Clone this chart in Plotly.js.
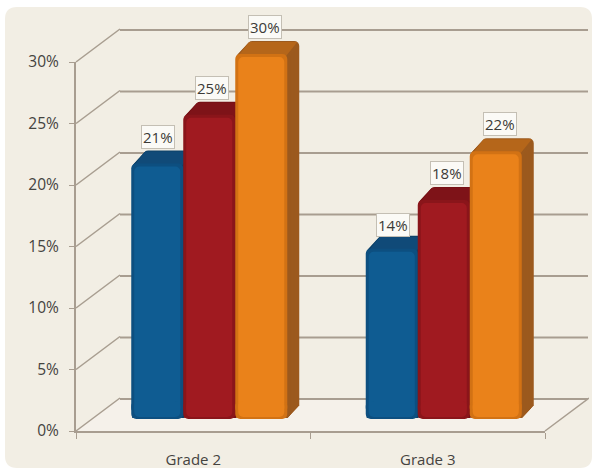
<!DOCTYPE html>
<html>
<head>
<meta charset="utf-8">
<script src="https://cdn.plot.ly/plotly-3.0.1.min.js"></script>
<style>html,body{margin:0;padding:0;background:#fff}</style>
</head>
<body>
<div id="chart" style="width:592px;height:469px"></div>
<script>
const categories = ['Grade 2', 'Grade 3'];
const seriesA = [21, 14];
const seriesB = [25, 18];
const seriesC = [30, 22];
const percentTicks = [0, 5, 10, 15, 20, 25, 30];

const W = 592, H = 469;
const font = '"Open Sans", "Noto Sans", sans-serif';
const textColor = '#45433f';
const gridColor = '#a89d90';
const series = [
  {v: seriesA, front: '#0f5c92', edge: '#0d4f80', side: '#0d4066', top: '#104a78'},
  {v: seriesB, front: '#a01a20', edge: '#8a151a', side: '#761015', top: '#7e1318'},
  {v: seriesC, front: '#ea821a', edge: '#d27214', side: '#9c5a1e', top: '#b5661a'}
];

const layout = {
  width: W, height: H,
  margin: {l: 0, r: 0, t: 0, b: 0},
  paper_bgcolor: '#ffffff',
  plot_bgcolor: 'rgba(0,0,0,0)',
  showlegend: false,
  barmode: 'overlay',
  barcornerradius: 5,
  font: {family: font, color: textColor, size: 14},
  shapes: [{
    type: 'path', xref: 'paper', yref: 'paper', layer: 'below',
    path: (() => {
      const X = p => p / W, Y = p => 1 - p / H, r = 12;
      const L = 5, R = 592, T = 7, B = 468;
      return `M${X(L + r)},${Y(T)} L${X(R - r)},${Y(T)} Q${X(R)},${Y(T)} ${X(R)},${Y(T + r)} ` +
             `L${X(R)},${Y(B - r)} Q${X(R)},${Y(B)} ${X(R - r)},${Y(B)} ` +
             `L${X(L + r)},${Y(B)} Q${X(L)},${Y(B)} ${X(L)},${Y(B - r)} ` +
             `L${X(L)},${Y(T + r)} Q${X(L)},${Y(T)} ${X(L + r)},${Y(T)} Z`;
    })(),
    fillcolor: '#f2eee4', line: {width: 0}
  }],
  annotations: []
};

let axisCount = 0;
// x0,x1,yBottom,yTop fix the scale; pad extends the drawable area beyond it without changing the scale
function addAxes(x0, x1, yBottom, yTop, xExtra, yExtra, pad) {
  axisCount++;
  const n = axisCount === 1 ? '' : String(axisCount);
  const p = Object.assign({l: 0, r: 0, t: 0, b: 0}, pad || {});
  const ux = 2 / (x1 - x0), uy = 30 / (yBottom - yTop);
  const hidden = {showgrid: false, zeroline: false, showline: false, showticklabels: false, ticks: ''};
  layout['xaxis' + n] = Object.assign({}, hidden, {
    domain: [(x0 - p.l) / W, (x1 + p.r) / W],
    range: [-0.5 - p.l * ux, 1.5 + p.r * ux], type: 'linear', fixedrange: true,
    anchor: 'y' + n
  }, xExtra || {});
  layout['yaxis' + n] = Object.assign({}, hidden, {
    domain: [1 - (yBottom + p.b) / H, 1 - (yTop - p.t) / H],
    range: [-p.b * uy, 30 + p.t * uy], type: 'linear', fixedrange: true,
    anchor: 'x' + n
  }, yExtra || {});
  return {x: 'x' + n, y: 'y' + n};
}

const traces = [];
const off = {hoverinfo: 'skip', showlegend: false};
const pxX = 2 / 469, pxY = 30 / 369;
const depthX = 44 * pxX, depthY = 33 * pxY;

// Floor and depth rules, on the scale of the front axes
const guides = addAxes(76, 545, 431, 62, {}, {}, {l: 2, r: 44, t: 36, b: 3});
traces.push(Object.assign({
  type: 'scatter', mode: 'lines', fill: 'toself', fillcolor: 'rgba(255,255,255,0.22)',
  x: [-0.5, 1.5, 1.5 + depthX, -0.5 + depthX, -0.5], y: [0, 0, depthY, depthY, 0],
  line: {width: 0, color: 'rgba(0,0,0,0)'}, xaxis: guides.x, yaxis: guides.y
}, off));
percentTicks.forEach(t => traces.push(Object.assign({
  type: 'scatter', mode: 'lines',
  x: [-0.5, -0.5 + depthX], y: [t, t + depthY],
  line: {color: gridColor, width: 1.5}, xaxis: guides.x, yaxis: guides.y
}, off)));
traces.push(Object.assign({
  type: 'scatter', mode: 'lines',
  x: [1.5, 1.5 + depthX], y: [0, depthY],
  line: {color: gridColor, width: 1.5}, xaxis: guides.x, yaxis: guides.y
}, off));

// Back wall rules
const wall = addAxes(120, 588, 399, 30, {}, {}, {t: 4, b: 4});
percentTicks.forEach(t => traces.push(Object.assign({
  type: 'scatter', mode: 'lines',
  x: [-0.5, 1.5], y: [t, t],
  line: {color: gridColor, width: 2}, xaxis: wall.x, yaxis: wall.y
}, off)));

// Front axes, labelled
const front = addAxes(76, 545, 431, 62, {
  showline: true, linecolor: gridColor, linewidth: 2,
  showticklabels: true, tickmode: 'array', tickvals: [0, 1], ticktext: categories,
  tickfont: {size: 15, color: textColor}, ticklabelstandoff: 14,
  minor: {tickmode: 'array', tickvals: [-0.5, 0.5, 1.5], ticks: 'outside', ticklen: 6, tickcolor: gridColor, tickwidth: 1}
}, {
  showline: true, linecolor: gridColor, linewidth: 2,
  showticklabels: true, tickmode: 'array', tickvals: percentTicks,
  ticktext: percentTicks.map(t => t + '%'), ticks: 'outside', ticklen: 5, tickcolor: gridColor, tickwidth: 1,
  ticklabelstandoff: 7,
  tickfont: {size: 15.5, color: textColor}
});
traces.push(Object.assign({type: 'scatter', mode: 'none', x: [0], y: [0], xaxis: front.x, yaxis: front.y}, off));

// Bars
const barW = 52 * pxX;
const barOffset = i => (i - 1.5) * barW;
const barX0 = 92, barX1 = 561, barB = 419, barT = 54;
const barPxY = 30 / (barB - barT);
const shiftX = 12, shiftY = 13, layers = 13;
const xs = categories.map((c, i) => i);
const cap = 6 * barPxY;

// Extruded body, deepest first
for (let k = layers; k >= 1; k--) {
  const a = addAxes(barX0 + shiftX * k / layers, barX1 + shiftX * k / layers,
                    barB - shiftY * k / layers, barT - shiftY * k / layers);
  series.forEach((s, i) => traces.push(Object.assign({
    type: 'bar', x: xs, y: s.v, width: barW, offset: barOffset(i),
    marker: {color: s.side, line: {width: 0}}, xaxis: a.x, yaxis: a.y
  }, off)));
}

// Top faces
const tops = addAxes(barX0, barX1, barB, barT, {}, {}, {t: 16});
series.forEach((s, i) => xs.forEach((x, j) => {
  const l = x + barOffset(i) + 2 * pxX, r = l + barW - 4 * pxX, v = s.v[j];
  traces.push(Object.assign({
    type: 'scatter', mode: 'lines', fill: 'toself', fillcolor: s.top,
    x: [l, r, r + shiftX * pxX, l + shiftX * pxX, l],
    y: [v - 3 * barPxY, v - 3 * barPxY, v + (shiftY - 1) * barPxY, v + (shiftY - 1) * barPxY, v - 3 * barPxY],
    line: {width: 0, color: s.top}, xaxis: tops.x, yaxis: tops.y
  }, off));
}));

// Front faces: each bar overlaps a downward foot so both ends are rounded
const faces = addAxes(barX0, barX1, barB, barT, {}, {}, {b: 2});
series.forEach((s, i) => {
  traces.push(Object.assign({
    type: 'bar', x: xs, y: s.v.map(v => v - cap), base: cap, width: barW, offset: barOffset(i),
    marker: {color: s.edge, line: {width: 0}}, xaxis: faces.x, yaxis: faces.y
  }, off));
  traces.push(Object.assign({
    type: 'bar', x: xs, y: xs.map(() => -3 * cap), base: 3 * cap, width: barW, offset: barOffset(i),
    marker: {color: s.edge, line: {width: 0}}, xaxis: faces.x, yaxis: faces.y
  }, off));
});
const faceInner = addAxes(barX0, barX1, barB, barT);
series.forEach((s, i) => {
  traces.push(Object.assign({
    type: 'bar', x: xs, y: s.v.map(v => v - cap - 3 * barPxY), base: cap,
    width: barW - 6 * pxX, offset: barOffset(i) + 3 * pxX,
    marker: {color: s.front, line: {width: 0}}, xaxis: faceInner.x, yaxis: faceInner.y
  }, off));
  traces.push(Object.assign({
    type: 'bar', x: xs, y: xs.map(() => -3 * cap + 2 * barPxY), base: 3 * cap,
    width: barW - 6 * pxX, offset: barOffset(i) + 3 * pxX,
    marker: {color: s.front, line: {width: 0}}, xaxis: faceInner.x, yaxis: faceInner.y
  }, off));
});

// Value labels
const labelNudgeX = [1, 3, 4];
const labelNudgeY = [[0, -3], [0, 0], [0, 0]];
series.forEach((s, i) => xs.forEach((x, j) => {
  layout.annotations.push({
    xref: faces.x, yref: faces.y, x: x + barOffset(i) + barW / 2, y: s.v[j],
    text: s.v[j] + '%', showarrow: false, xanchor: 'center', yanchor: 'bottom',
    xshift: labelNudgeX[i], yshift: 15 + labelNudgeY[i][j],
    bgcolor: '#fbfaf6', bordercolor: '#c4bfb4', borderwidth: 1, borderpad: 1,
    font: {size: 15, color: '#3c3a36', family: font}
  });
}));

Plotly.newPlot('chart', traces, layout, {displayModeBar: false, staticPlot: true});
</script>
</body>
</html>
